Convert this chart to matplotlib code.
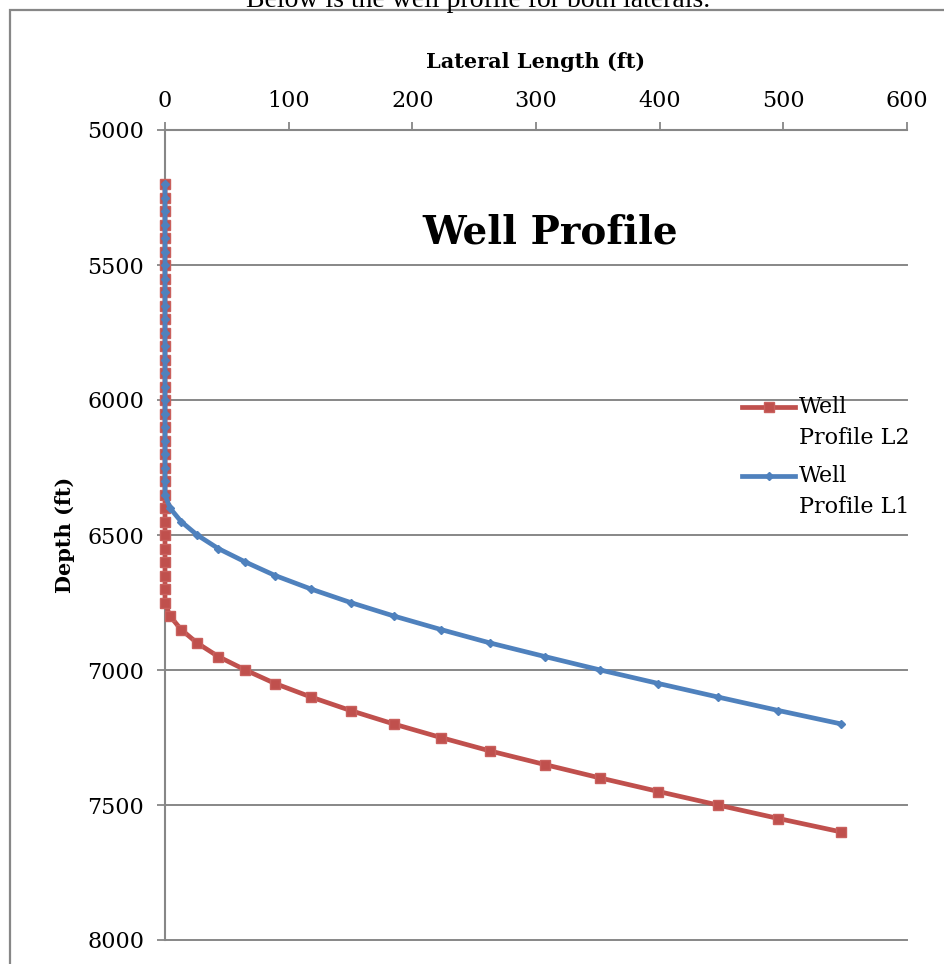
import matplotlib
matplotlib.use("Agg")
import matplotlib.pyplot as plt
from matplotlib.patches import Rectangle
from matplotlib.legend_handler import HandlerLine2D

# ---- data ----
depth_L2 = [5200, 5250, 5300, 5350, 5400, 5450, 5500, 5550, 5600, 5650,
            5700, 5750, 5800, 5850, 5900, 5950, 6000, 6050, 6100, 6150,
            6200, 6250, 6300, 6350, 6400, 6450, 6500, 6550, 6600, 6650,
            6700, 6750, 6800, 6850, 6900, 6950, 7000, 7050, 7100, 7150,
            7200, 7250, 7300, 7350, 7400, 7450, 7500, 7550, 7600]
lateral_L2 = [0, 0, 0, 0, 0, 0, 0, 0, 0, 0,
              0, 0, 0, 0, 0, 0, 0, 0, 0, 0,
              0, 0, 0, 0, 0, 0, 0, 0, 0, 0,
              0, 0, 4, 13, 26, 43, 65, 89, 118, 150,
              185, 223, 263, 307, 352, 399, 447, 496, 547]

depth_L1 = [5200, 5250, 5300, 5350, 5400, 5450, 5500, 5550, 5600, 5650,
            5700, 5750, 5800, 5850, 5900, 5950, 6000, 6050, 6100, 6150,
            6200, 6250, 6300, 6350, 6400, 6450, 6500, 6550, 6600, 6650,
            6700, 6750, 6800, 6850, 6900, 6950, 7000, 7050, 7100, 7150,
            7200]
lateral_L1 = [0, 0, 0, 0, 0, 0, 0, 0, 0, 0,
              0, 0, 0, 0, 0, 0, 0, 0, 0, 0,
              0, 0, 0, 0, 4, 13, 26, 43, 65, 89,
              118, 150, 185, 223, 263, 307, 352, 399, 447, 496,
              547]

x_ticks = [0, 100, 200, 300, 400, 500, 600]
y_ticks = [5000, 5500, 6000, 6500, 7000, 7500, 8000]

label_L2 = "Well\nProfile L2"
label_L1 = "Well\nProfile L1"
title = "Well Profile"
x_label = "Lateral Length (ft)"
y_label = "Depth (ft)"
top_text = "Below is the well profile for both laterals."

RED = "#C0504D"
BLUE = "#4F81BD"
GRAY = "#878787"
FONT = "DejaVu Serif"

plt.rcParams["font.family"] = [FONT, "DejaVu Sans"]


class TopAlignedLine(HandlerLine2D):
    """Line handle aligned with the first line of a two-line label."""
    def __init__(self, shift, **kw):
        super().__init__(**kw)
        self.shift = shift

    def create_artists(self, legend, orig_handle, xdescent, ydescent,
                       width, height, fontsize, trans):
        return super().create_artists(legend, orig_handle, xdescent,
                                      ydescent - 2 * self.shift, width,
                                      height, fontsize, trans)


W, H = 945, 964
fig = plt.figure(figsize=(W / 100, H / 100), dpi=100)

# outer border (cut off by right and bottom edges)
fig.patches.append(Rectangle((10 / W, -0.1), 1.2, 1.1 - 10 / H,
                             transform=fig.transFigure, fill=False,
                             edgecolor=GRAY, linewidth=1.6))
fig.text(478 / W, 1 - 7 / H, top_text, ha="center", va="baseline",
         fontsize=20, family="Liberation Serif")

ax = fig.add_axes([165 / W, 1 - 940 / H, (907 - 165) / W, (940 - 130) / H])

l2, = ax.plot(lateral_L2, depth_L2, color=RED, linewidth=3.4, marker="s",
              markersize=7, markerfacecolor=RED, markeredgecolor="#C9605D",
              label=label_L2, zorder=3, clip_on=False)
l1, = ax.plot(lateral_L1, depth_L1, color=BLUE, linewidth=3.4, marker="D",
              markersize=4.2, markerfacecolor=BLUE, markeredgecolor=BLUE,
              label=label_L1, zorder=4, clip_on=False)

ax.set_xlim(0, 600)
ax.set_ylim(8000, 5000)
ax.set_xticks(x_ticks)
ax.set_yticks(y_ticks)
ax.xaxis.tick_top()
ax.xaxis.set_label_position("top")
ax.tick_params(axis="x", direction="out", length=6, width=1.3, color=GRAY,
               labelsize=16, pad=7)
ax.tick_params(axis="y", direction="out", length=6, width=1.3, color=GRAY,
               labelsize=16, pad=9)
for s in ["right", "bottom"]:
    ax.spines[s].set_visible(False)
for s in ["top", "left"]:
    ax.spines[s].set_color(GRAY)
    ax.spines[s].set_linewidth(1.5)
ax.grid(axis="y", color=GRAY, linewidth=1.4)
ax.set_axisbelow(True)
for gl in ax.get_ygridlines():
    gl.set_clip_on(False)

ax.set_xlabel(x_label, fontsize=15, fontweight="bold", labelpad=16)
ax.set_ylabel(y_label, fontsize=15, fontweight="bold", labelpad=9)

ax.text(550 / W, 1 - 232 / H, title, transform=fig.transFigure,
        ha="center", va="center", fontsize=28, fontweight="bold")

shift = 11.5
leg = ax.legend(handles=[l2, l1], loc="upper left",
                bbox_to_anchor=(742 / W, 1 - 396 / H),
                bbox_transform=fig.transFigure, frameon=False, fontsize=16,
                handlelength=2.4, handletextpad=0.15, borderpad=0,
                borderaxespad=0, labelspacing=0.7,
                handler_map={l2: TopAlignedLine(shift),
                             l1: TopAlignedLine(shift)})
for t in leg.get_texts():
    t.set_linespacing(1.55)

fig.savefig("out.png", dpi=100)
